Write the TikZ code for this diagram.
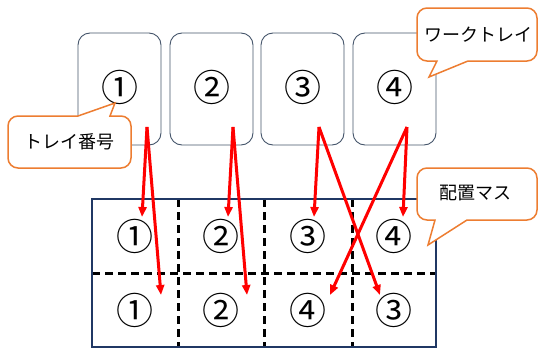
\documentclass[tikz,border=0pt]{standalone}
\usepackage{fontspec}
\setmainfont{Noto Sans CJK JP}
\usetikzlibrary{arrows.meta}
\definecolor{trayc}{HTML}{44546A}
\definecolor{gridc}{HTML}{203864}
\definecolor{callc}{HTML}{ED7D31}
\definecolor{arrc}{HTML}{FF0000}
\tikzset{
 tray/.style={draw=trayc, line width=0.9pt, rounded corners=12pt, minimum width=83pt, minimum height=112pt, inner sep=0pt},
 num/.style={inner sep=0pt, font=\fontsize{37}{37}\selectfont},
 gridline/.style={line width=3pt, dash pattern=on 8pt off 5pt},
 move/.style={draw=arrc, line width=3pt, -{Triangle[length=10pt,width=8pt]}},
 callout/.style={draw=callc, fill=white, line width=1.5pt},
 calltext/.style={font=\fontsize{18}{18}\selectfont, inner sep=0pt}
}
\begin{document}
\begin{tikzpicture}[x=1pt,y=-1pt]
\useasboundingbox (0,0) rectangle (538,351);
% trays
\node[tray] (t1) at (119.5,89) {};
\node[tray] (t2) at (211.5,89) {};
\node[tray] (t3) at (302.5,89) {};
\node[tray] (t4) at (394.5,89) {};
\node[num] (n1) at (119.5,87) {①};
\node[num] (n2) at (211.5,87) {②};
\node[num] (n3) at (302.5,87) {③};
\node[num] (n4) at (394.5,87) {④};
% grid
\draw[gridline] (178,199) -- (178,347);
\draw[gridline] (264,199) -- (264,347);
\draw[gridline] (352,199) -- (352,347);
\draw[gridline] (92,273) -- (436,273);
\draw[draw=gridc, line width=2.2pt] (92,199) rectangle (436,347);
\node[num] (c11) at (135,236) {①};
\node[num] (c12) at (221,236) {②};
\node[num] (c13) at (308,236) {③};
\node[num] (c14) at (394,236) {④};
\node[num] (c21) at (135,310) {①};
\node[num] (c22) at (221,310) {②};
\node[num] (c23) at (308,310) {④};
\node[num] (c24) at (394,310) {③};
% arrows
\coordinate (s1) at (147,127);
\coordinate (s2) at (233,127);
\coordinate (s3) at (319,127);
\coordinate (s4) at (407,127);
\coordinate (e11) at (142,217);
\coordinate (e21) at (161,295);
\coordinate (e12) at (228,217);
\coordinate (e22) at (247,295);
\coordinate (e13) at (314,217);
\coordinate (e24) at (380,295);
\coordinate (e14) at (403,217);
\coordinate (e23) at (330,295);
\draw[move] (s1) -- (e11);
\draw[move] (s1) -- (e21);
\draw[move] (s2) -- (e12);
\draw[move] (s2) -- (e22);
\draw[move] (s3) -- (e13);
\draw[move] (s3) -- (e24);
\draw[move] (s4) -- (e14);
\draw[move] (s4) -- (e23);
% callouts
\draw[callout] (60,168) [rounded corners=10pt] -- (8,168) -- (8,116) -- (68,116) [sharp corners] -- (78,116) -- (115,103) -- (110,116) -- (120,116) [rounded corners=10pt] -- (131,116) -- (131,168) -- cycle;
\draw[callout] (477,8) [rounded corners=10pt] -- (537,8) -- (537,61) -- (478,61) [sharp corners] -- (468,61) -- (429,77) -- (437,61) -- (428,61) [rounded corners=10pt] -- (417,61) -- (417,8) -- cycle;
\draw[callout] (477,168) [rounded corners=10pt] -- (537,168) -- (537,220) -- (477,220) [sharp corners] -- (467,220) -- (428,245) -- (435,220) -- (428,220) [rounded corners=10pt] -- (417,220) -- (417,168) -- cycle;
\node[calltext] (lab1) at (69,142) {トレイ番号};
\node[calltext] (lab2) at (478,35) {ワークトレイ};
\node[calltext] (lab3) at (475,193) {配置マス};
\end{tikzpicture}
\end{document}
